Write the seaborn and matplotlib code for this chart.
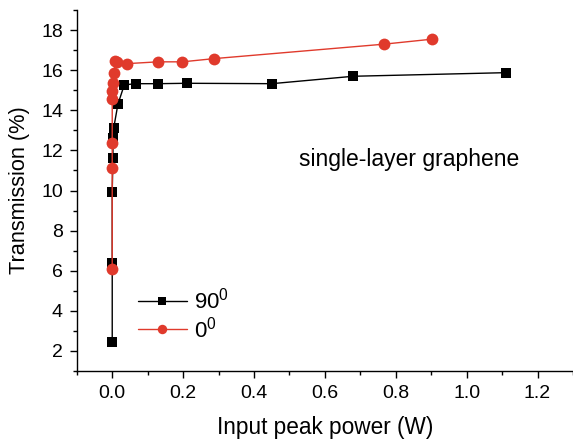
import numpy as np
import pandas as pd
import matplotlib
matplotlib.use('Agg')
import matplotlib.pyplot as plt
import seaborn as sns
from matplotlib.ticker import MultipleLocator

# 90 degree polarization (black squares)
power_90 = [0.0, 0.0, 0.0, 0.002, 0.002, 0.004, 0.016, 0.034, 0.066, 0.129, 0.211, 0.45, 0.68, 1.111]
trans_90 = [2.45, 6.38, 9.95, 11.6, 12.6, 13.1, 14.3, 15.27, 15.33, 15.33, 15.35, 15.33, 15.7, 15.88]

# 0 degree polarization (red circles)
power_0 = [0.0, 0.0, 0.0, 0.0, 0.0, 0.002, 0.005, 0.008, 0.013, 0.042, 0.129, 0.198, 0.287, 0.766, 0.902]
trans_0 = [6.08, 11.13, 12.35, 14.56, 14.98, 15.35, 15.86, 16.45, 16.4, 16.33, 16.42, 16.42, 16.58, 17.3, 17.55]

df90 = pd.DataFrame({'power': power_90, 'trans': trans_90})
df0 = pd.DataFrame({'power': power_0, 'trans': trans_0})

sns.set_style('ticks')
plt.rcParams['font.family'] = ['Liberation Sans', 'DejaVu Sans']
plt.rcParams['mathtext.fontset'] = 'custom'
plt.rcParams['mathtext.rm'] = 'Liberation Sans'
for k in ['text.color', 'axes.labelcolor', 'xtick.color', 'ytick.color', 'axes.edgecolor']:
    plt.rcParams[k] = 'black'

fig = plt.figure(figsize=(5.73, 4.40), dpi=100)
ax = fig.add_axes([0.134, 0.157, 0.866, 0.82])

sns.lineplot(data=df90, x='power', y='trans', sort=False, estimator=None, color='black', marker='s',
             markersize=7, markeredgewidth=0, linewidth=1.0, label='$\\mathregular{90^0}$', ax=ax)
sns.lineplot(data=df0, x='power', y='trans', sort=False, estimator=None, color='#e03a2c', marker='o',
             markersize=8.5, markeredgewidth=0, linewidth=1.0, label='$\\mathregular{0^0}$', ax=ax)

ax.set_xlim(-0.1, 1.3)
ax.set_ylim(1, 19)
ax.xaxis.set_minor_locator(MultipleLocator(0.1))
ax.yaxis.set_major_locator(MultipleLocator(2))
ax.yaxis.set_minor_locator(MultipleLocator(1))
ax.set_xticks(np.arange(0, 1.21, 0.2))
ax.set_xticklabels(['0.0', '0.2', '0.4', '0.6', '0.8', '1.0', '1.2'])
ax.tick_params(which='major', length=5, width=1, labelsize=14, color='black', direction='out', pad=5)
ax.tick_params(which='minor', length=3, width=1, color='black', direction='out')
sns.despine(ax=ax)
for s in ['left', 'bottom']:
    ax.spines[s].set_linewidth(1)
    ax.spines[s].set_color('black')

ax.set_xlabel('Input peak power (W)', fontsize=16.3, labelpad=10)
ax.set_ylabel('Transmission (%)', fontsize=15.7, labelpad=8)

ax.text(0.528, 11.55, 'single-layer graphene', fontsize=16.5, va='center')

ax.legend(loc='center left', bbox_to_anchor=(0.083, 0.155), frameon=False, fontsize=16,
          handlelength=2.2, handletextpad=0.3, labelspacing=0.1, markerscale=0.8)

fig.savefig('out.png', dpi=100)
